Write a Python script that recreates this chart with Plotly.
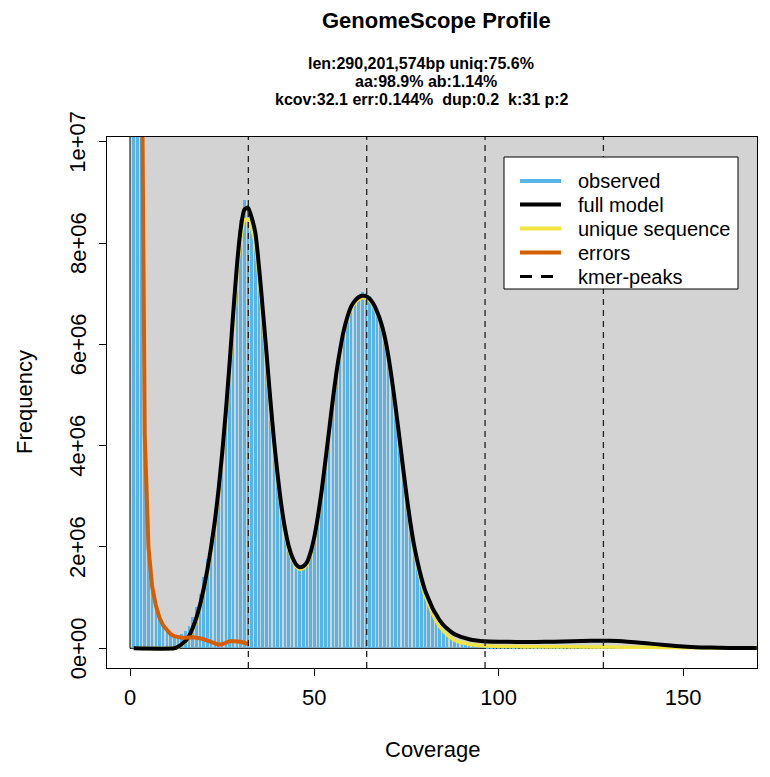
import plotly.graph_objects as go

# ---------------- data (frequencies in millions) ----------------
UNIT = 1e6
coverage = list(range(1, 171))
observed = [
    180, 60, 15, 4.3, 2.05, 1.25, 0.88, 0.63, 0.47, 0.36,
    0.29, 0.25, 0.25, 0.28, 0.34, 0.45, 0.62, 0.82, 1.08, 1.40,
    1.77, 2.20, 2.65, 3.25, 3.98, 4.82, 5.78, 6.78, 7.72, 8.45,
    8.84, 8.76, 8.55, 8.22, 7.55, 6.72, 5.86, 4.97, 4.17, 3.46,
    2.86, 2.39, 2.04, 1.80, 1.66, 1.60, 1.62, 1.71, 1.90, 2.21,
    2.63, 3.13, 3.71, 4.31, 4.91, 5.46, 5.92, 6.30, 6.58, 6.79,
    6.90, 6.98, 7.03, 7.02, 6.95, 6.83, 6.67, 6.46, 6.18, 5.80,
    5.31, 4.76, 4.17, 3.57, 2.99, 2.47, 2.02, 1.66, 1.35, 1.09,
    0.90, 0.72, 0.58, 0.46, 0.37, 0.29, 0.23, 0.18, 0.14, 0.11,
    0.09, 0.075, 0.065, 0.055, 0.048, 0.042, 0.038, 0.035, 0.032, 0.030,
    0.029, 0.028, 0.028, 0.027, 0.027, 0.026, 0.026, 0.025, 0.025, 0.025,
    0.024, 0.024, 0.024, 0.023, 0.023, 0.023, 0.023, 0.022, 0.022, 0.022,
    0.022, 0.022, 0.021, 0.021, 0.021, 0.021, 0.021, 0.021, 0.020, 0.020,
    0.020, 0.019, 0.019, 0.018, 0.018, 0.017, 0.017, 0.016, 0.016, 0.015,
    0.015, 0.014, 0.014, 0.013, 0.013, 0.012, 0.012, 0.011, 0.011, 0.011,
    0.010, 0.010, 0.010, 0.009, 0.009, 0.009, 0.009, 0.008, 0.008, 0.008,
    0.008, 0.008, 0.007, 0.007, 0.007, 0.007, 0.007, 0.006, 0.006, 0.006,
]

model_cov = [1, 12] + list(range(13, 91)) + [92, 94, 96, 100, 105, 110, 115, 120,
                                             125, 130, 135, 140, 145, 150, 155, 160, 165, 170]
model_freq = [
    0.0, 0.0,
    0.03, 0.08, 0.14, 0.24, 0.40, 0.60, 0.86, 1.18,
    1.56, 2.00, 2.50, 3.12, 3.85, 4.68, 5.62, 6.62, 7.55, 8.27,
    8.66, 8.70, 8.50, 8.20, 7.52, 6.70, 5.85, 4.96, 4.15, 3.45,
    2.85, 2.38, 2.03, 1.80, 1.66, 1.60, 1.62, 1.70, 1.90, 2.20,
    2.62, 3.12, 3.70, 4.30, 4.90, 5.45, 5.90, 6.28, 6.55, 6.75,
    6.86, 6.93, 6.96, 6.95, 6.90, 6.80, 6.65, 6.45, 6.18, 5.80,
    5.32, 4.78, 4.20, 3.60, 3.02, 2.50, 2.05, 1.70, 1.40, 1.15,
    0.97, 0.80, 0.67, 0.55, 0.46, 0.39, 0.33, 0.28, 0.25, 0.22,
    0.18, 0.155, 0.14, 0.13, 0.125, 0.125, 0.13, 0.14,
    0.148, 0.148, 0.13, 0.10, 0.065, 0.035, 0.018, 0.010, 0.007, 0.005,
]

unique_cov = [1, 12] + list(range(13, 91)) + [92, 94, 96, 100, 105, 110, 120,
                                              130, 140, 150, 160, 170]
unique_freq = [
    0.0, 0.0,
    0.02, 0.07, 0.12, 0.22, 0.37, 0.56, 0.82, 1.14,
    1.51, 1.95, 2.43, 3.05, 3.78, 4.56, 5.48, 6.45, 7.38, 8.07,
    8.45, 8.47, 8.28, 7.98, 7.29, 6.50, 5.67, 4.80, 4.02, 3.35,
    2.77, 2.31, 1.97, 1.75, 1.62, 1.56, 1.58, 1.66, 1.86, 2.16,
    2.58, 3.08, 3.66, 4.26, 4.86, 5.41, 5.86, 6.24, 6.51, 6.71,
    6.82, 6.89, 6.92, 6.91, 6.86, 6.76, 6.61, 6.41, 6.13, 5.75,
    5.27, 4.73, 4.15, 3.55, 2.96, 2.44, 1.98, 1.62, 1.31, 1.05,
    0.87, 0.69, 0.55, 0.43, 0.34, 0.27, 0.21, 0.16, 0.13, 0.11,
    0.08, 0.06, 0.05, 0.04, 0.035, 0.03, 0.03,
    0.025, 0.02, 0.012, 0.007, 0.004,
]

errors_cov = list(range(1, 33))
errors_freq = [
    150, 50, 14, 4.2, 2.0, 1.22, 0.85, 0.60, 0.45, 0.35,
    0.28, 0.24, 0.22, 0.21, 0.21, 0.22, 0.22, 0.21, 0.20, 0.18,
    0.15, 0.12, 0.09, 0.07, 0.08, 0.12, 0.14, 0.14, 0.14, 0.13,
    0.11, 0.08,
]

kmer_peaks = [32.1, 64.2, 96.3, 128.4]

x_ticks = [0, 50, 100, 150]
y_ticks = [0, 2e6, 4e6, 6e6, 8e6, 1e7]
y_ticktext = ["0e+00", "2e+06", "4e+06", "6e+06", "8e+06", "1e+07"]

title_text = "GenomeScope Profile"
subtitle_lines = [
    "len:290,201,574bp uniq:75.6%",
    "aa:98.9% ab:1.14%",
    "kcov:32.1 err:0.144%  dup:0.2  k:31 p:2",
]
legend_labels = ["observed", "full model", "unique sequence", "errors", "kmer-peaks"]

# ---------------- styles ----------------
C_HIST = "#56B4E9"
C_MODEL = "black"
C_UNIQUE = "#F0E442"
C_ERR = "#D55E00"
C_BG = "#D3D3D3"
FONT = "Liberation Sans, Arial, Helvetica, sans-serif"

W, H = 770, 777
ML, MR, MT, MB = 107, 13, 137, 109
PW, PH = W - ML - MR, H - MT - MB


def px_x(px):
    return (px - ML) / PW


def px_y(py):
    return (H - MB - py) / PH


fig = go.Figure()

fig.add_trace(go.Bar(
    x=coverage, y=[v * UNIT for v in observed], width=0.68,
    marker=dict(color=C_HIST, line=dict(width=0)), showlegend=False,
))
fig.add_trace(go.Scatter(
    x=unique_cov, y=[v * UNIT for v in unique_freq], mode="lines",
    line=dict(color=C_UNIQUE, width=3.5, shape="spline", smoothing=0.6), showlegend=False,
))
fig.add_trace(go.Scatter(
    x=model_cov, y=[v * UNIT for v in model_freq], mode="lines",
    line=dict(color=C_MODEL, width=4, shape="spline", smoothing=0.6), showlegend=False,
))
fig.add_trace(go.Scatter(
    x=errors_cov, y=[v * UNIT for v in errors_freq], mode="lines",
    line=dict(color=C_ERR, width=4), showlegend=False,
))

shapes = []
# grey background region
shapes.append(dict(type="rect", xref="x", yref="y", x0=0, x1=190, y0=0, y1=1.2e7,
                   fillcolor=C_BG, line=dict(color="black", width=1), layer="below"))
# kmer peaks
for kp in kmer_peaks:
    shapes.append(dict(type="line", xref="x", yref="paper", x0=kp, x1=kp, y0=0, y1=1,
                       line=dict(color="#222222", width=1.3, dash="6px,5px"), layer="above"))

# legend box
shapes.append(dict(type="rect", xref="paper", yref="paper",
                   x0=px_x(504), x1=px_x(738), y0=px_y(289), y1=px_y(157),
                   fillcolor="white", line=dict(color="black", width=1), layer="above"))
row_y = [181, 204.5, 228.5, 252.5, 276.5]
sample_styles = [
    dict(color=C_HIST, width=4),
    dict(color=C_MODEL, width=4),
    dict(color=C_UNIQUE, width=4),
    dict(color=C_ERR, width=4),
    dict(color="black", width=3, dash="12px,9px"),
]
annotations = []
for lab, ry, st in zip(legend_labels, row_y, sample_styles):
    shapes.append(dict(type="line", xref="paper", yref="paper",
                       x0=px_x(520), x1=px_x(561), y0=px_y(ry), y1=px_y(ry),
                       line=st, layer="above"))
    annotations.append(dict(text=lab, xref="paper", yref="paper", x=px_x(576), y=px_y(ry),
                            xanchor="left", yanchor="middle", showarrow=False,
                            font=dict(size=20, color="black", family=FONT)))

# y tick labels (rotated, R style)
for tv, tt in zip(y_ticks, y_ticktext):
    annotations.append(dict(text=tt, xref="paper", yref="y", x=px_x(78), y=tv,
                            xanchor="center", yanchor="middle", textangle=-90,
                            showarrow=False, font=dict(size=22, color="black", family=FONT)))

# titles
annotations.append(dict(text="<b>" + title_text + "</b>", xref="paper", yref="paper",
                        x=px_x(436), y=px_y(21), xanchor="center", yanchor="middle",
                        showarrow=False, font=dict(size=22, color="black", family=FONT)))
for line, cx, cy in zip(subtitle_lines, [421, 426, 422], [63, 81.5, 100]):
    annotations.append(dict(text="<b>" + line + "</b>", xref="paper", yref="paper",
                            x=px_x(cx), y=px_y(cy), xanchor="center", yanchor="middle",
                            showarrow=False, font=dict(size=16, color="black", family=FONT)))
annotations.append(dict(text="Coverage", xref="paper", yref="paper",
                        x=0.5, y=px_y(749), xanchor="center", yanchor="middle",
                        showarrow=False, font=dict(size=22, color="black", family=FONT)))
annotations.append(dict(text="Frequency", xref="paper", yref="paper",
                        x=px_x(24), y=px_y(402), xanchor="center", yanchor="middle",
                        textangle=-90, showarrow=False,
                        font=dict(size=22, color="black", family=FONT)))

cov0_px, cov_scale = 130.0, 3.687
x_range = [(ML - cov0_px) / cov_scale, (W - MR - cov0_px) / cov_scale]
y0_px, y_scale = 648.3, 50.66e-6
y_range = [-(H - MB - y0_px) / y_scale, (y0_px - MT) / y_scale]

fig.update_layout(
    width=W, height=H,
    margin=dict(l=ML, r=MR, t=MT, b=MB, pad=0),
    paper_bgcolor="white", plot_bgcolor="white",
    font=dict(family=FONT, color="black"),
    showlegend=False,
    shapes=shapes, annotations=annotations,
    xaxis=dict(range=x_range, tickvals=x_ticks, ticks="outside", ticklen=7,
               tickcolor="black", tickwidth=1, showline=True, mirror=True,
               linecolor="black", linewidth=1, showgrid=False, zeroline=False,
               tickfont=dict(size=22, color="black", family=FONT), ticklabelstandoff=3),
    yaxis=dict(range=y_range, tickvals=y_ticks, showticklabels=False,
               ticks="outside", ticklen=7, tickcolor="black", tickwidth=1,
               showline=True, mirror=True, linecolor="black", linewidth=1,
               showgrid=False, zeroline=False),
    bargap=0,
)

fig.write_html("out.html")
